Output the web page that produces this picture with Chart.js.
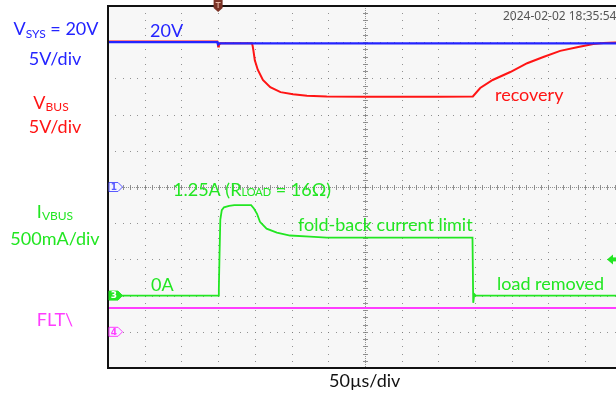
<!DOCTYPE html>
<html>
<head>
<meta charset="utf-8">
<script src="https://cdn.jsdelivr.net/npm/chart.js@4/dist/chart.umd.min.js"></script>
<style>
  html, body { margin: 0; padding: 0; background: #ffffff; }
  canvas { display: block; }
</style>
</head>
<body>
<canvas id="scope" width="616" height="394"></canvas>
<script>
// Horizontal: 50 µs per division, trigger at t = 0 µs
const timeDiv = 50;
const timeMin = -150;
const timeMax = 542;

// CH1 – VSYS (V)
const vsysTime = [-150, -1, 0, 1.5, 3, 542];
const vsysVolt = [20.0, 20.0, 19.7, 19.85, 19.85, 19.85];

// CH2 – VBUS (V)
const vbusTime = [-150, -1, 0, 1, 3, 46, 47, 48, 50, 54, 61, 71, 85, 102, 121, 148, 200, 300, 347,
                  357, 374, 398, 421, 443, 466, 489, 511, 525, 542];
const vbusVolt = [20.1, 20.1, 19.4, 19.6, 19.85, 19.85, 19.5, 18.9, 17.5, 16.2, 14.8, 13.8, 13.1, 12.8, 12.6, 12.5, 12.45, 12.45, 12.5,
                  13.67, 14.78, 15.88, 17.1, 17.96, 18.8, 19.3, 19.75, 19.9, 19.95];

// CH3 – IVBUS (A)
const ibusTime = [-150, 0, 1, 2, 3, 5, 8, 15, 22, 45, 49, 53, 57, 66, 80, 98, 125, 148, 250, 346.5,
                  347.5, 349, 351, 542];
const ibusAmp  = [0, 0, 0.1, 0.6, 1.05, 1.18, 1.22, 1.24, 1.25, 1.25, 1.2, 1.13, 1.02, 0.925, 0.87, 0.83, 0.815, 0.80, 0.80, 0.80,
                  -0.1, 0.02, 0, 0];

// CH4 – FLT\ (V)
const fltTime = [-150, 542];
const fltVolt = [3.3, 3.3];

// Vertical settings: 10 divisions, per-channel scale and ground position
const ch1Scale = { min: -25, max: 25 };   // 5 V/div, ground at division 5
const ch3Scale = { min: -1, max: 4 };     // 500 mA/div, ground at division 2
const ch4Scale = { min: -5, max: 45 };    // 5 V/div, ground at division 1

const BLUE = '#2424ff', RED = '#ff1414', GREEN = '#22e622', MAGENTA = '#ff3dff';
const FONT = 'Lato, "Noto Sans", sans-serif';

const pts = (t, v) => t.map((x, i) => ({ x, y: v[i] }));

// Screen background and plot face
const face = {
  id: 'face',
  beforeDraw(chart) {
    const { ctx, chartArea: a } = chart;
    ctx.save();
    ctx.fillStyle = '#ffffff';
    ctx.fillRect(0, 0, chart.width, chart.height);
    ctx.fillStyle = '#f7f7f7';
    ctx.fillRect(a.left, a.top, a.right - a.left, a.bottom - a.top);
    ctx.restore();
  }
};

// Dotted graticule with a ticked centre cross
const graticule = {
  id: 'graticule',
  beforeDatasetsDraw(chart) {
    const { ctx, chartArea: a, scales } = chart;
    const x = scales.x, yV = scales.yV;
    const divW = x.getPixelForValue(timeMin + timeDiv) - x.getPixelForValue(timeMin);
    const divH = (a.bottom - a.top) / 10;
    const cx = Math.round(x.getPixelForValue(timeMin + 7 * timeDiv));
    const cy = Math.round(yV.getPixelForValue(0));
    ctx.save();
    ctx.fillStyle = 'rgba(120,120,120,0.8)';
    // vertical lines
    for (let k = 1; ; k++) {
      const px = Math.round(x.getPixelForValue(timeMin + k * timeDiv));
      if (px > a.right) break;
      if (px === cx) continue;
      for (let j = 1; j < 50; j++) {
        ctx.fillRect(px, Math.round(a.top + j * divH / 5), 1, 1);
      }
    }
    // horizontal lines
    for (let d = 1; d < 10; d++) {
      const py = Math.round(a.top + d * divH);
      if (py === cy) continue;
      for (let j = 1; ; j++) {
        const px = Math.round(a.left + j * divW / 5);
        if (px > a.right) break;
        ctx.fillRect(px, py, 1, 1);
      }
    }
    // centre cross
    for (let py = a.top + 2; py < a.bottom; py += 2) ctx.fillRect(cx, py, 1, 1);
    for (let j = 1; j < 50; j++) ctx.fillRect(cx - 2, Math.round(a.top + j * divH / 5), 5, 1);
    for (let px = a.left + 2; px < a.right; px += 2) ctx.fillRect(px, cy, 1, 1);
    for (let j = 1; ; j++) {
      const px = Math.round(a.left + j * divW / 5);
      if (px > a.right) break;
      ctx.fillRect(px, cy - 2, 1, 5);
    }
    ctx.restore();
  }
};

// Text made of runs with different sizes (subscripts, small caps)
function drawRuns(ctx, runs, x, baseline, align, color) {
  ctx.fillStyle = color;
  ctx.textBaseline = 'alphabetic';
  ctx.textAlign = 'left';
  let total = 0;
  runs.forEach(r => { ctx.font = r.size + 'px ' + FONT; r.w = ctx.measureText(r.text).width; total += r.w; });
  let px = align === 'center' ? x - total / 2 : x;
  runs.forEach(r => {
    ctx.font = r.size + 'px ' + FONT;
    ctx.fillText(r.text, px, baseline + (r.dy || 0));
    px += r.w;
  });
}

function channelTag(ctx, x, y, label, color, filled) {
  ctx.save();
  ctx.beginPath();
  ctx.moveTo(x, y - 4.5);
  ctx.lineTo(x + 9, y - 4.5);
  ctx.lineTo(x + 13.5, y);
  ctx.lineTo(x + 9, y + 4.5);
  ctx.lineTo(x, y + 4.5);
  ctx.closePath();
  ctx.fillStyle = filled ? color : '#f4f4ff';
  ctx.fill();
  ctx.lineWidth = 1;
  ctx.strokeStyle = color;
  ctx.stroke();
  ctx.fillStyle = filled ? '#ffffff' : color;
  ctx.font = 'bold 9px "DejaVu Sans", sans-serif';
  ctx.textAlign = 'center';
  ctx.textBaseline = 'middle';
  ctx.fillText(label, x + 5, y + 0.5);
  ctx.restore();
}

// Frame, markers and annotations
const overlay = {
  id: 'overlay',
  afterDatasetsDraw(chart) {
    const { ctx, chartArea: a, scales } = chart;
    ctx.save();

    // frame
    ctx.strokeStyle = '#111111';
    ctx.lineWidth = 2;
    ctx.beginPath();
    ctx.moveTo(a.right + 2, a.top);
    ctx.lineTo(a.left, a.top);
    ctx.lineTo(a.left, a.bottom);
    ctx.lineTo(a.right + 2, a.bottom);
    ctx.stroke();

    // trigger position marker
    const tx = scales.x.getPixelForValue(0);
    ctx.fillStyle = '#7a3226';
    ctx.beginPath();
    ctx.moveTo(tx - 4.5, 0);
    ctx.lineTo(tx + 4.5, 0);
    ctx.lineTo(tx + 4.5, 8);
    ctx.lineTo(tx, 12);
    ctx.lineTo(tx - 4.5, 8);
    ctx.closePath();
    ctx.fill();
    ctx.fillStyle = '#e8b8a8';
    ctx.fillRect(tx - 2.5, 2, 5, 1);
    ctx.fillRect(tx - 0.5, 2, 1, 6);

    // trigger level marker (CH3)
    const ty = scales.yI.getPixelForValue(0.5);
    ctx.fillStyle = GREEN;
    ctx.beginPath();
    ctx.moveTo(607, ty);
    ctx.lineTo(613, ty - 5);
    ctx.lineTo(613, ty + 5);
    ctx.closePath();
    ctx.fill();
    ctx.fillRect(612, ty - 2, 4, 4);

    // channel ground tags
    channelTag(ctx, a.left + 1, scales.yV.getPixelForValue(0), '1', '#5a5aff', false);
    channelTag(ctx, a.left + 1, scales.yI.getPixelForValue(0), '3', GREEN, true);
    channelTag(ctx, a.left + 1, scales.yF.getPixelForValue(0), '4', MAGENTA, false);

    // channel legends on the left
    drawRuns(ctx, [{ text: 'V', size: 18 }, { text: 'SYS', size: 12, dy: 2.5 }, { text: ' = 20V', size: 18 }], 56, 35, 'center', BLUE);
    drawRuns(ctx, [{ text: '5V/div', size: 18 }], 55, 65, 'center', BLUE);
    drawRuns(ctx, [{ text: 'V', size: 18 }, { text: 'BUS', size: 12, dy: 2 }], 51, 109, 'center', RED);
    drawRuns(ctx, [{ text: '5V/div', size: 18 }], 55, 133, 'center', RED);
    drawRuns(ctx, [{ text: 'I', size: 18 }, { text: 'VBUS', size: 12, dy: 2 }], 55, 218, 'center', GREEN);
    drawRuns(ctx, [{ text: '500mA/div', size: 18 }], 55, 245, 'center', GREEN);
    drawRuns(ctx, [{ text: 'FLT\\', size: 18 }], 55, 326, 'center', MAGENTA);

    // trace annotations
    drawRuns(ctx, [{ text: '20V', size: 18 }], 150, 37, 'left', BLUE);
    drawRuns(ctx, [{ text: 'recovery', size: 18 }], 495, 101, 'left', RED);
    drawRuns(ctx, [{ text: '1.25A (R', size: 18 }, { text: 'LOAD', size: 11 }, { text: ' = 16Ω)', size: 18 }], 173, 196, 'left', GREEN);
    drawRuns(ctx, [{ text: 'fold-back current limit', size: 18 }], 298, 231, 'left', GREEN);
    drawRuns(ctx, [{ text: '0A', size: 18 }], 151, 291, 'left', GREEN);
    drawRuns(ctx, [{ text: 'load removed', size: 18 }], 497, 290, 'left', GREEN);
    drawRuns(ctx, [{ text: '50µs/div', size: 18 }], 329, 387, 'left', '#111111');

    // timestamp
    ctx.fillStyle = '#555555';
    ctx.font = '12px "Noto Sans", sans-serif';
    ctx.textAlign = 'left';
    ctx.textBaseline = 'alphabetic';
    ctx.fillText('2024-02-02 18:35:54', 503, 20);

    ctx.restore();
  }
};

const trace = (label, t, v, color, axis, width) => ({
  label, data: pts(t, v), yAxisID: axis,
  borderColor: color, backgroundColor: color, borderWidth: width,
  pointRadius: 0, tension: 0, fill: false
});

new Chart(document.getElementById('scope'), {
  type: 'line',
  data: {
    datasets: [
      trace('VSYS', vsysTime, vsysVolt, BLUE, 'yV', 2.2),
      trace('VBUS', vbusTime, vbusVolt, RED, 'yV', 2),
      trace('IVBUS', ibusTime, ibusAmp, GREEN, 'yI', 1.8),
      trace('FLT', fltTime, fltVolt, MAGENTA, 'yF', 2)
    ]
  },
  options: {
    responsive: false,
    animation: false,
    devicePixelRatio: 1,
    layout: { padding: { left: 108, top: 6, right: 0, bottom: 26 } },
    plugins: { legend: { display: false }, tooltip: { enabled: false } },
    scales: {
      x: { type: 'linear', min: timeMin, max: timeMax, display: false },
      yV: { type: 'linear', min: ch1Scale.min, max: ch1Scale.max, display: false },
      yI: { type: 'linear', min: ch3Scale.min, max: ch3Scale.max, display: false },
      yF: { type: 'linear', min: ch4Scale.min, max: ch4Scale.max, display: false }
    }
  },
  plugins: [face, graticule, overlay]
});
</script>
</body>
</html>
